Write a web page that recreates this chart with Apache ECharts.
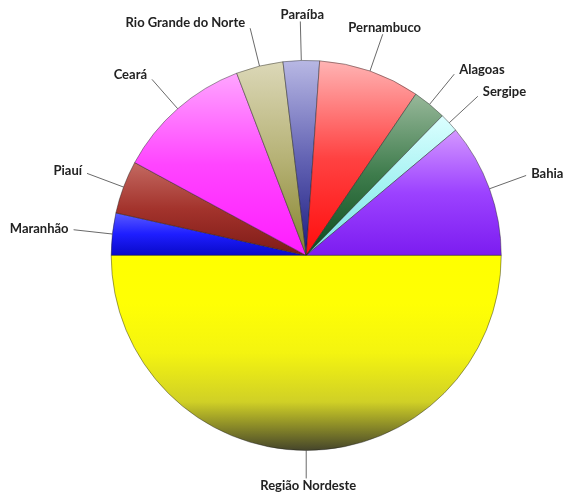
<!DOCTYPE html>
<html>
<head>
<meta charset="utf-8">
<script src="https://cdn.jsdelivr.net/npm/echarts@6/dist/echarts.min.js"></script>
<style>
  html, body { margin: 0; padding: 0; background: #fff; }
  #chart { width: 566px; height: 495px; }
</style>
</head>
<body>
<div id="chart"></div>
<script>
// estados do Nordeste + total da região (metade inferior)
const estados = ['Maranhão', 'Piauí', 'Ceará', 'Rio Grande do Norte', 'Paraíba', 'Pernambuco', 'Alagoas', 'Sergipe', 'Bahia', 'Região Nordeste']
const valores = [3.5, 4.4, 11.3, 3.9, 3.0, 8.4, 2.8, 1.6, 11.1, 50]

// gradiente vertical de cada fatia (claro em cima -> escuro embaixo)
const cores = [
  ['#5c5cff', '#1e1eff', '#0808c8'],
  ['#c46a62', '#a3332c', '#7e1a16'],
  ['#ffa6ff', '#ff45ff', '#ff1cff'],
  ['#dcd8b8', '#b6b276', '#86842e'],
  ['#b8b8e4', '#6464b4', '#1c1c80'],
  ['#ffb4b4', '#ff4242', '#ff0c0c'],
  ['#98b89a', '#3e7c4c', '#0c4a1c'],
  ['#dcffff', '#a4f2f2', '#7ce0e4'],
  ['#d498ff', '#9c42ff', '#7c1cf0'],
  ['#ffff00', '#ffff04', '#f4f410', '#d0d026', '#44442a']
]
// onde fica o texto em relação à ponta da linha
const ancoraRotulo = ['lado', 'lado', 'lado', 'lado', 'topo', 'topo', 'lado', 'lado', 'lado', 'base']

function gradiente(lista) {
  return new echarts.graphic.LinearGradient(0, 0, 0, 1,
    lista.map((c, i) => ({ offset: i / (lista.length - 1), color: c })))
}

function posicionaRotulo(p) {
  const pts = p.labelLinePoints
  if (!pts) return {}
  const a = pts[0], b = pts[1]
  const dx = b[0] - a[0], dy = b[1] - a[1]
  const len = Math.hypot(dx, dy) || 1
  const ux = dx / len, uy = dy / len
  const modo = ancoraRotulo[p.dataIndex]
  if (modo === 'topo') {
    return { x: b[0] + 2, y: b[1], align: 'center', verticalAlign: 'bottom', labelLinePoints: pts }
  }
  if (modo === 'base') {
    return { x: b[0] + 2, y: b[1] + 1, align: 'center', verticalAlign: 'top', labelLinePoints: pts }
  }
  return {
    x: b[0] + (ux < 0 ? -5 : 5),
    y: b[1] + uy * 6,
    align: ux < 0 ? 'right' : 'left',
    verticalAlign: 'middle',
    labelLinePoints: pts
  }
}

const dados = estados.map((nome, i) => {
  const item = { name: nome, value: valores[i], itemStyle: { color: gradiente(cores[i]) } }
  if (ancoraRotulo[i] === 'base') item.labelLine = { length: 28 }
  return item
})

const chart = echarts.init(document.getElementById('chart'))
chart.setOption({
  animation: false,
  backgroundColor: '#fff',
  series: [
    {
      type: 'pie',
      center: ['54.1%', '51.6%'],
      radius: '78.8%',
      startAngle: 180,
      clockwise: true,
      avoidLabelOverlap: false,
      itemStyle: {
        borderColor: 'rgba(30,30,30,0.55)',
        borderWidth: 0.8
      },
      label: {
        show: true,
        position: 'outside',
        formatter: '{b}',
        color: '#222',
        fontFamily: 'Lato',
        fontWeight: 'bold',
        fontSize: 13
      },
      labelLine: {
        show: true,
        length: 39,
        length2: 0,
        smooth: false,
        lineStyle: { color: '#6a6a6a', width: 1 }
      },
      labelLayout: posicionaRotulo,
      emphasis: { disabled: true },
      data: dados
    }
  ]
})
</script>
</body>
</html>
